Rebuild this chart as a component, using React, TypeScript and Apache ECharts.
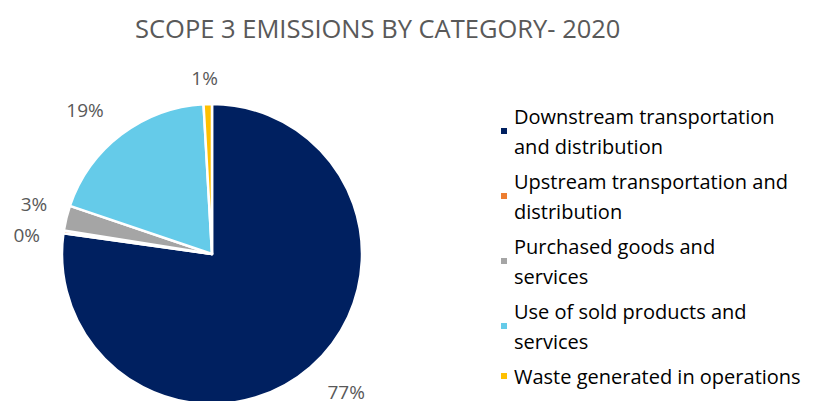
import React, { useEffect, useRef } from "react";
import * as echarts from "echarts";

const categories = [
  "Downstream transportation and distribution",
  "Upstream transportation and distribution",
  "Purchased goods and services",
  "Use of sold products and services",
  "Waste generated in operations",
];
const legendLines = [
  "Downstream transportation\nand distribution",
  "Upstream transportation and\ndistribution",
  "Purchased goods and\nservices",
  "Use of sold products and\nservices",
  "Waste generated in operations",
];
const shares = [77.2, 0.3, 2.7, 18.9, 0.9];
const colors = ["#002060", "#ED7D31", "#A5A5A5", "#65CBE9", "#FFC000"];
const labelOffsets = [[-4, 1], [8, 8], [12, -6], [2, 1], [11, 6]];
const titleText = "SCOPE 3 EMISSIONS BY CATEGORY- 2020";

export default function App() {
  const ref = useRef<HTMLDivElement>(null);
  useEffect(() => {
    if (!ref.current) return;
    const chart = echarts.init(ref.current, null, { renderer: "svg" });
    const font = "Open Sans";
    chart.setOption({
      animation: false,
      backgroundColor: "#ffffff",
      title: {
        text: titleText,
        left: 130,
        top: 10,
        textStyle: { fontFamily: font, fontSize: 25.5, fontWeight: "normal", color: "#595959" },
      },
      legend: {
        orient: "vertical",
        left: 494,
        top: 96,
        icon: "rect",
        itemWidth: 8,
        itemHeight: 8,
        itemGap: 5,
        data: categories,
        formatter: (name: string) => legendLines[categories.indexOf(name)],
        textStyle: { fontFamily: font, fontSize: 20, color: "#000000", lineHeight: 30, padding: [0, 0, 0, 1] },
      },
      series: [
        {
          type: "pie",
          center: [212, 254],
          radius: 150,
          startAngle: 90,
          clockwise: true,
          avoidLabelOverlap: false,
          minShowLabelAngle: 0,
          itemStyle: { borderColor: "#ffffff", borderWidth: 2.5 },
          label: {
            show: true,
            position: "outside",
            fontFamily: font,
            fontSize: 19,
            color: "#595959",
            distanceToLabelLine: 0,
            formatter: (p: any) => Math.round(p.percent) + "%",
          },
          labelLine: { show: false, length: 32, length2: 0 },
          data: categories.map((c, i) => ({
            name: c,
            value: shares[i],
            itemStyle: { color: colors[i] },
            label: { offset: labelOffsets[i] },
          })),
        },
      ],
    });
    return () => chart.dispose();
  }, []);
  return <div ref={ref} style={{ position: "fixed", left: 0, top: 0, width: 816, height: 401 }} />;
}
